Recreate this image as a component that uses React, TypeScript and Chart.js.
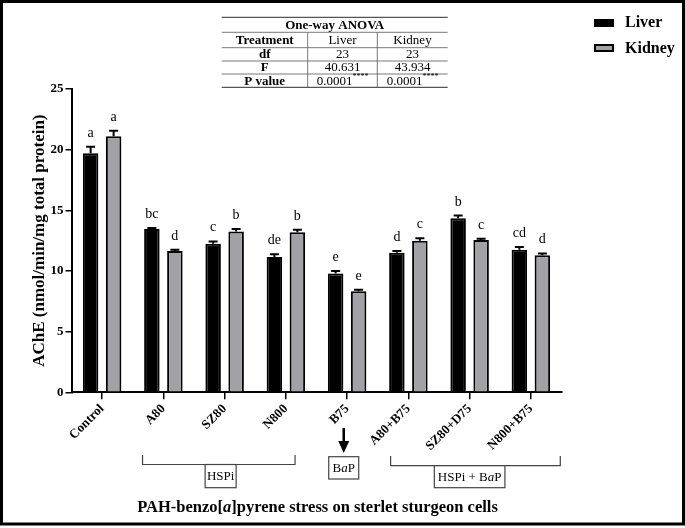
import React, { useEffect, useRef } from "react";
import { Chart, registerables } from "chart.js";

Chart.register(...registerables);

const categories = ["Control", "A80", "SZ80", "N800", "B75", "A80+B75", "SZ80+D75", "N800+B75"];
const liverValues = [19.7, 13.45, 12.25, 11.15, 9.8, 11.5, 14.35, 11.75];
const liverErrors = [0.55, 0.1, 0.18, 0.22, 0.2, 0.15, 0.22, 0.22];
const kidneyValues = [21.1, 11.65, 13.25, 13.2, 8.33, 12.5, 12.55, 11.3];
const kidneyErrors = [0.45, 0.1, 0.2, 0.2, 0.13, 0.2, 0.1, 0.15];
const liverLetters = ["a", "bc", "c", "de", "e", "d", "b", "cd"];
const kidneyLetters = ["a", "d", "b", "b", "e", "c", "c", "d"];
const yTicks = [0, 5, 10, 15, 20, 25];
const tableRows = [
  ["Treatment", "Liver", "Kidney"],
  ["df", "23", "23"],
  ["F", "40.631", "43.934"],
  ["P value", "0.0001", "0.0001"],
];

const SERIF = '"Liberation Serif", "Times New Roman", serif';
const GRAY = "#a2a2a6";

function drawMixed(ctx: CanvasRenderingContext2D, parts: [string, string][], cx: number, cy: number) {
  let total = 0;
  parts.forEach(([t, f]) => {
    ctx.font = f;
    total += ctx.measureText(t).width;
  });
  let x = cx - total / 2;
  ctx.textAlign = "left";
  ctx.textBaseline = "middle";
  parts.forEach(([t, f]) => {
    ctx.font = f;
    ctx.fillText(t, x, cy);
    x += ctx.measureText(t).width;
  });
}

const decorPlugin = {
  id: "decor",
  afterDatasetsDraw(chart: any) {
    const ctx: CanvasRenderingContext2D = chart.ctx;
    const ys = chart.scales.y;
    const sets = [
      { vals: liverValues, errs: liverErrors, letters: liverLetters },
      { vals: kidneyValues, errs: kidneyErrors, letters: kidneyLetters },
    ];
    ctx.save();
    sets.forEach((s, di) => {
      const meta = chart.getDatasetMeta(di);
      meta.data.forEach((bar: any, i: number) => {
        const top = ys.getPixelForValue(s.vals[i] + s.errs[i]);
        ctx.strokeStyle = "#000";
        ctx.lineWidth = 2;
        ctx.beginPath();
        ctx.moveTo(bar.x, bar.y);
        ctx.lineTo(bar.x, top);
        ctx.moveTo(bar.x - 4.5, top);
        ctx.lineTo(bar.x + 4.5, top);
        ctx.stroke();
        ctx.fillStyle = "#000";
        ctx.font = `14px ${SERIF}`;
        ctx.textAlign = "center";
        ctx.textBaseline = "alphabetic";
        ctx.fillText(s.letters[i], bar.x, top - 10);
      });
    });
    ctx.restore();
  },
  afterDraw(chart: any) {
    const ctx: CanvasRenderingContext2D = chart.ctx;
    const xs = chart.scales.x;
    const ca = chart.chartArea;
    ctx.save();
    ctx.fillStyle = "#000";
    ctx.strokeStyle = "#000";

    // frame
    ctx.lineWidth = 3;
    ctx.strokeRect(1.5, 1.5, 682, 522.5);

    // y title
    ctx.save();
    ctx.translate(40, (ca.top + ca.bottom) / 2);
    ctx.rotate(-Math.PI / 2);
    ctx.font = `bold 17px ${SERIF}`;
    ctx.textAlign = "center";
    ctx.textBaseline = "middle";
    ctx.fillText("AChE (nmol/min/mg total protein)", 0, 0);
    ctx.restore();

    // legend
    ctx.lineWidth = 2;
    ctx.fillStyle = "#000";
    ctx.fillRect(594, 19, 20, 8);
    ctx.fillStyle = GRAY;
    ctx.fillRect(595, 45, 18, 6);
    ctx.strokeRect(595, 45, 18, 6);
    ctx.fillStyle = "#000";
    ctx.font = `bold 16px ${SERIF}`;
    ctx.textAlign = "left";
    ctx.textBaseline = "middle";
    ctx.fillText("Liver", 625, 23);
    ctx.fillText("Kidney", 625, 49);

    // ANOVA table
    const tL = 221.7, tR = 447.7;
    const colX = [221.7, 307.7, 377.3, 447.7];
    const rowY = [17.3, 32.3, 47.7, 61, 74, 87.3];
    ctx.strokeStyle = "#555";
    rowY.forEach((yy, k) => {
      ctx.lineWidth = k === 0 || k === rowY.length - 1 ? 1.2 : 0.8;
      ctx.beginPath();
      ctx.moveTo(tL, yy);
      ctx.lineTo(tR, yy);
      ctx.stroke();
    });
    ctx.lineWidth = 0.8;
    [colX[1], colX[2]].forEach((xx) => {
      ctx.beginPath();
      ctx.moveTo(xx, rowY[1]);
      ctx.lineTo(xx, rowY[5]);
      ctx.stroke();
    });
    ctx.fillStyle = "#000";
    ctx.textAlign = "center";
    ctx.textBaseline = "middle";
    ctx.font = `bold 13px ${SERIF}`;
    ctx.fillText("One-way ANOVA", (tL + tR) / 2, (rowY[0] + rowY[1]) / 2 + 0.5);
    tableRows.forEach((row, r) => {
      const cy = (rowY[r + 1] + rowY[r + 2]) / 2 + 0.5;
      row.forEach((cell, c) => {
        const cx = (colX[c] + colX[c + 1]) / 2;
        if (c === 0) {
          ctx.font = `bold 13px ${SERIF}`;
          ctx.textAlign = "center";
          ctx.fillText(cell, cx, cy);
        } else if (r === 3) {
          ctx.font = `13px ${SERIF}`;
          const w1 = ctx.measureText(cell).width;
          ctx.font = `8px ${SERIF}`;
          const w2 = ctx.measureText("****").width;
          const x0 = cx - (w1 + w2) / 2;
          ctx.textAlign = "left";
          ctx.font = `13px ${SERIF}`;
          ctx.fillText(cell, x0, cy);
          ctx.font = `8px ${SERIF}`;
          ctx.fillText("****", x0 + w1, cy - 4);
          ctx.textAlign = "center";
        } else {
          ctx.font = `13px ${SERIF}`;
          ctx.textAlign = "center";
          ctx.fillText(cell, cx, cy);
        }
      });
    });

    // brackets and group boxes
    const px = (i: number) => xs.getPixelForValue(i);
    const cw = px(1) - px(0);
    ctx.strokeStyle = "#444";
    ctx.lineWidth = 1.2;
    const bracket = (l: number, r: number, yTop: number, yLine: number) => {
      ctx.beginPath();
      ctx.moveTo(l, yTop);
      ctx.lineTo(l, yLine);
      ctx.lineTo(r, yLine);
      ctx.lineTo(r, yTop);
      ctx.stroke();
    };
    const box = (cx: number, w: number, top: number, bottom: number, parts: [string, string][]) => {
      ctx.fillStyle = "#fff";
      ctx.fillRect(cx - w / 2, top, w, bottom - top);
      ctx.strokeRect(cx - w / 2, top, w, bottom - top);
      ctx.fillStyle = "#000";
      drawMixed(ctx, parts, cx, (top + bottom) / 2 + 0.5);
    };
    const reg = `13px ${SERIF}`;
    const ital = `italic 13px ${SERIF}`;
    bracket(px(1) - 0.34 * cw, px(3) + 0.15 * cw, 455, 464.5);
    box(px(2) - 4, 31, 464.5, 487.7, [["HSPi", reg]]);
    bracket(px(5) - 0.29 * cw, px(7) + 0.48 * cw, 456, 465.7);
    box(px(6), 70.6, 465.7, 487.7, [["HSPi + B", reg], ["a", ital], ["P", reg]]);

    // arrow + BaP box
    const ax = px(4) - 3.4;
    ctx.strokeStyle = "#000";
    ctx.lineWidth = 2.5;
    ctx.beginPath();
    ctx.moveTo(ax, 428);
    ctx.lineTo(ax, 444);
    ctx.stroke();
    ctx.fillStyle = "#000";
    ctx.beginPath();
    ctx.moveTo(ax - 5.5, 441);
    ctx.lineTo(ax + 5.5, 441);
    ctx.lineTo(ax, 453);
    ctx.closePath();
    ctx.fill();
    ctx.strokeStyle = "#444";
    ctx.lineWidth = 1.2;
    box(ax, 30, 456.7, 479, [["B", reg], ["a", ital], ["P", reg]]);

    // x title
    ctx.fillStyle = "#000";
    drawMixed(
      ctx,
      [
        ["PAH-benzo[", `bold 16.5px ${SERIF}`],
        ["a", `bold italic 16.5px ${SERIF}`],
        ["]pyrene stress on sterlet sturgeon cells", `bold 16.5px ${SERIF}`],
      ],
      317.5,
      507.5
    );
    ctx.restore();
  },
};

export default function App() {
  const ref = useRef<HTMLCanvasElement | null>(null);
  useEffect(() => {
    if (!ref.current) return;
    const chart = new Chart(ref.current, {
      type: "bar",
      data: {
        labels: categories,
        datasets: [
          {
            label: "Liver",
            data: liverValues,
            backgroundColor: "#000",
            borderColor: "#000",
            borderWidth: 2,
            categoryPercentage: 0.751,
            barPercentage: 0.674,
          },
          {
            label: "Kidney",
            data: kidneyValues,
            backgroundColor: GRAY,
            borderColor: "#000",
            borderWidth: 2,
            categoryPercentage: 0.751,
            barPercentage: 0.674,
          },
        ],
      },
      options: {
        responsive: false,
        animation: false,
        layout: { padding: { top: 89, left: 0, right: 123.5, bottom: 75.7 } },
        plugins: { legend: { display: false }, tooltip: { enabled: false }, title: { display: false } },
        scales: {
          x: {
            offset: true,
            grid: {
              display: true,
              offset: false,
              drawOnChartArea: false,
              drawTicks: true,
              tickLength: 7,
              color: "#000",
              lineWidth: 1.5,
            },
            border: { display: true, color: "#000", width: 2 },
            ticks: {
              color: "#000",
              font: { family: SERIF, size: 13, weight: "bold" },
              minRotation: 45,
              maxRotation: 45,
              padding: 2,
              autoSkip: false,
            },
            afterFit: (s: any) => {
              s.height = 60;
            },
          },
          y: {
            min: 0,
            max: 25,
            afterBuildTicks: (s: any) => {
              s.ticks = yTicks.map((v) => ({ value: v }));
            },
            grid: { display: true, drawOnChartArea: false, drawTicks: true, tickLength: 6, color: "#000", lineWidth: 1.5 },
            border: { display: true, color: "#000", width: 2 },
            ticks: {
              color: "#000",
              font: { family: SERIF, size: 13, weight: "bold" },
              padding: 2,
              callback: (v: any) => String(v),
            },
            afterFit: (s: any) => {
              s.width = 71.5;
            },
          },
        },
      },
      plugins: [decorPlugin],
    });
    return () => chart.destroy();
  }, []);
  return (
    <div style={{ position: "absolute", left: 0, top: 0, width: 685, height: 528, background: "#fff" }}>
      <canvas ref={ref} width={685} height={528} style={{ display: "block", width: 685, height: 528 }} />
    </div>
  );
}
